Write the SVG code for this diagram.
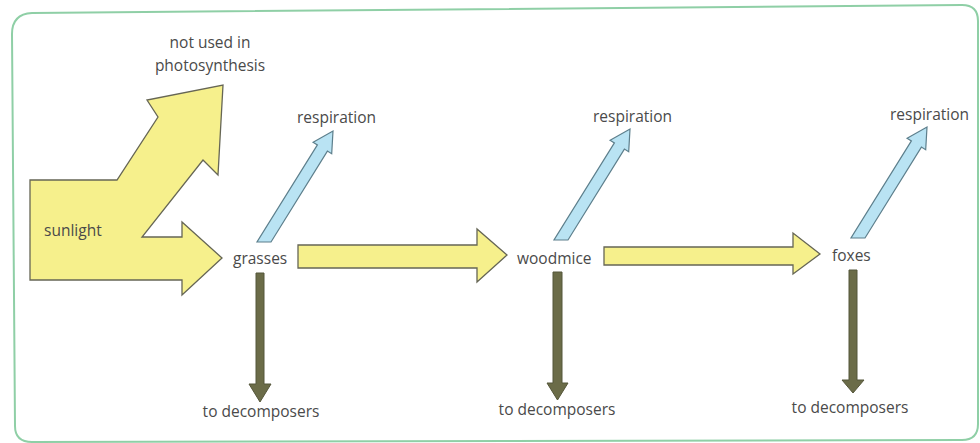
<svg xmlns="http://www.w3.org/2000/svg" width="980" height="443" viewBox="0 0 980 443">
<style>
.t{font-family:"Open Sans","Liberation Sans",sans-serif;font-size:15.5px;fill:#4a4a4a}
.m{text-anchor:middle}
.y{fill:#f6f08c;stroke:#666655;stroke-width:1.3;stroke-linejoin:miter}
.b{fill:#b9e3f3;stroke:#5d7f8c;stroke-width:1.2}
.d{fill:#6b6c48;stroke:#55563a;stroke-width:1}
</style>
<rect width="980" height="443" fill="#ffffff"/>
<path id="frame" d="M12,34 Q12,14 32,13 L962,5 Q978,5 978,21 L978,424 Q978,440 962,440 L32,442 Q15,442 15,426 Z" fill="none" stroke="#8fcfa6" stroke-width="2"/>
<g id="sunlight">
<polygon class="y" points="30,180 117,180 158,117 147,100 223,85 218,175 203,160 142,237 182,237 182,222 222,258 182,295 182,280 30,280"/>
<text class="t" x="44" y="236">sunlight</text>
</g>
<g id="not-used">
<text class="t m" x="210" y="48">not used in</text>
<text class="t m" x="210" y="71">photosynthesis</text>
</g>
<g id="grasses"><text class="t" x="233" y="264">grasses</text></g>
<g id="woodmice"><text class="t" x="517" y="264">woodmice</text></g>
<g id="foxes"><text class="t" x="832" y="261">foxes</text></g>
<g id="respiration1"><text class="t" x="297" y="123">respiration</text></g>
<g id="respiration2"><text class="t" x="593" y="122">respiration</text></g>
<g id="respiration3"><text class="t" x="890" y="120">respiration</text></g>
<g id="decomposers1"><text class="t m" x="261" y="417">to decomposers</text></g>
<g id="decomposers2"><text class="t m" x="557" y="415">to decomposers</text></g>
<g id="decomposers3"><text class="t m" x="850" y="413">to decomposers</text></g>
<g id="connectors">
<polygon class="y" points="298,245 477,245 477,229 507,255 477,282 477,268 298,268"/>
<polygon class="y" points="604,247 793,247 793,233 820,254 793,274 793,265 604,265"/>
<polygon id="resp-arrow" class="b" points="257,242 271,242 327.4,151.1 331.7,153.8 333,131 313.1,142.2 317.4,144.9"/>
<polygon class="b" points="257,242 271,242 327.4,151.1 331.7,153.8 333,131 313.1,142.2 317.4,144.9" transform="translate(297,-2)"/>
<polygon class="b" points="257,242 271,242 327.4,151.1 331.7,153.8 333,131 313.1,142.2 317.4,144.9" transform="translate(594,-4)"/>
<polygon class="d" points="256,273 264,273 264,384 271,384 260,402 249,384 256,384"/>
<polygon class="d" points="553,272 562,272 562,383 568,383 557.5,400 547,383 553,383"/>
<polygon class="d" points="849,270 857,270 857,380 864,380 853,393 842,380 849,380"/>
</g>
</svg>
